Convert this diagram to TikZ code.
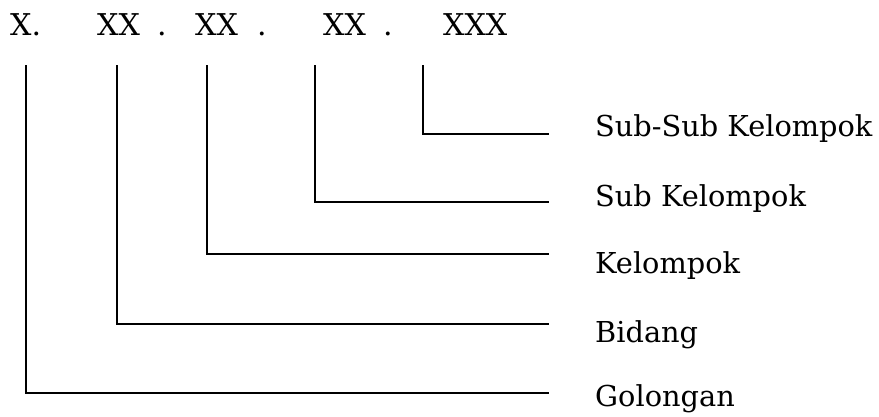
\documentclass[tikz,border=0pt]{standalone}
\usepackage{fontspec}
\setmainfont{DejaVu Serif}
\tikzset{
  codetext/.style={anchor=base west, inner sep=0pt, font=\fontsize{30}{30}\selectfont},
  leveltext/.style={anchor=base west, inner sep=0pt, font=\fontsize{28.8}{29}\selectfont},
  levelline/.style={black, line width=1.5pt}
}
\begin{document}
\begin{tikzpicture}[x=1pt, y=-1pt]
		\useasboundingbox (0,0) rectangle (879,416);
		% kode
		\node[codetext] (kgol) at (10,35) {X.};
		\node[codetext] (kbid) at (97,35) {XX};
		\node[codetext] (dot1) at (157,35) {.};
		\node[codetext] (kkel) at (195,35) {XX};
		\node[codetext] (dot2) at (257,35) {.};
		\node[codetext] (ksub) at (323,35) {XX};
		\node[codetext] (dot3) at (383,35) {.};
		\node[codetext] (kss) at (443,35) {XXX};
		% ujung atas garis
		\coordinate (tgol) at (26,65);
		\coordinate (tbid) at (117,65);
		\coordinate (tkel) at (207,65);
		\coordinate (tsub) at (315,65);
		\coordinate (tss) at (423,65);
		% ujung kanan garis
		\coordinate (egol) at (549,393);
		\coordinate (ebid) at (549,324);
		\coordinate (ekel) at (549,254);
		\coordinate (esub) at (549,202);
		\coordinate (ess) at (549,134);
		% keterangan
		\node[leveltext] (lgol) at (595,406) {Golongan};
		\node[leveltext] (lbid) at (595,342) {Bidang};
		\node[leveltext] (lkel) at (595,273) {Kelompok};
		\node[leveltext] (lsub) at (595,206) {Sub Kelompok};
		\node[leveltext] (lss) at (595,136) {Sub-Sub Kelompok};
		\draw[levelline] (tgol) |- (egol);
		\draw[levelline] (tbid) |- (ebid);
		\draw[levelline] (tkel) |- (ekel);
		\draw[levelline] (tsub) |- (esub);
		\draw[levelline] (tss) |- (ess);
\end{tikzpicture}
\end{document}
